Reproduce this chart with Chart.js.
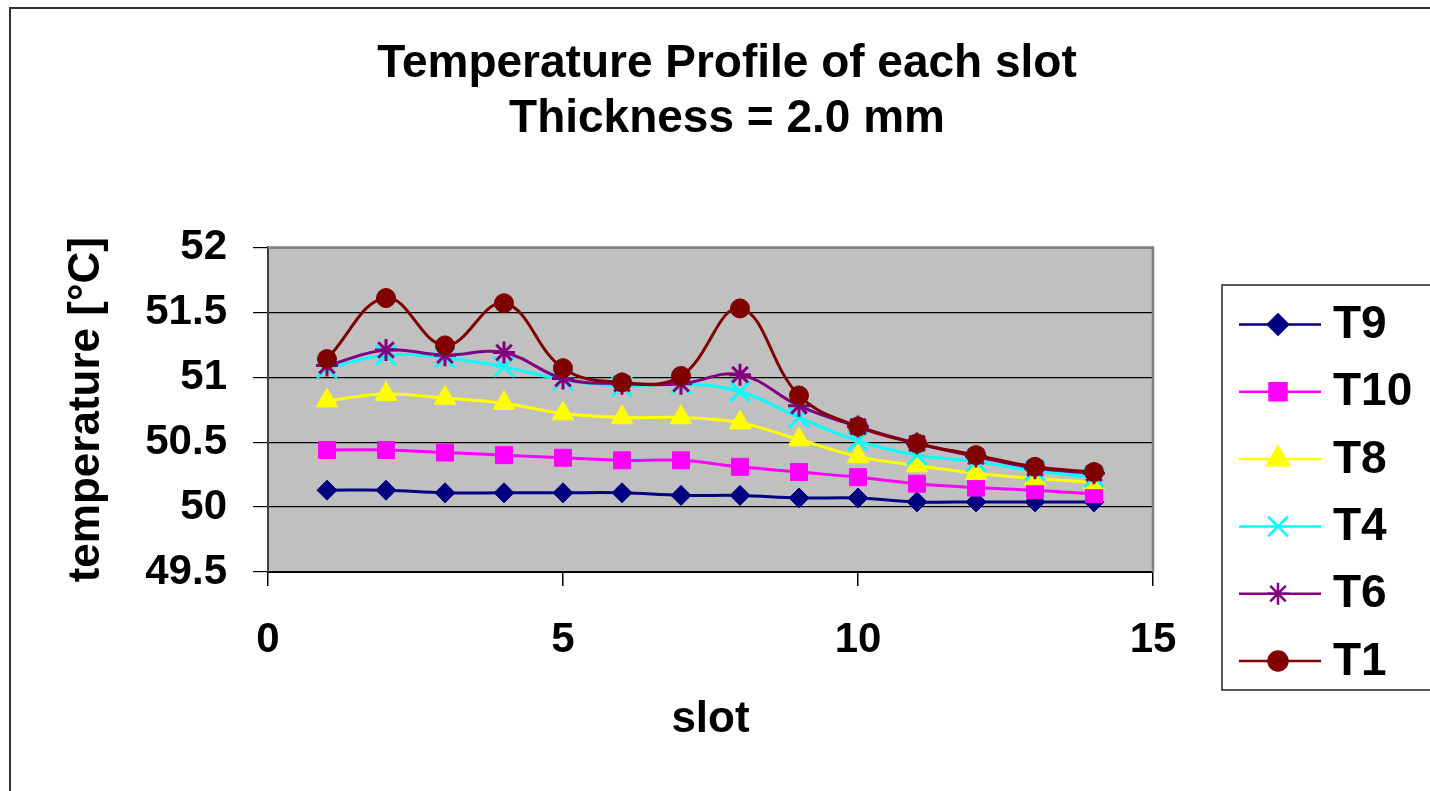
<!DOCTYPE html>
<html>
<head>
<meta charset="utf-8">
<script src="https://cdn.jsdelivr.net/npm/chart.js@4.4.1/dist/chart.umd.min.js"></script>
<style>
  html, body { margin: 0; padding: 0; background: #ffffff; }
  #wrap { width: 1430px; height: 791px; position: relative; }
</style>
</head>
<body>
<div id="wrap"><canvas id="c" width="1430" height="791"></canvas></div>
<script>
// ---- Data ----
const slots = [1, 2, 3, 4, 5, 6, 7, 8, 9, 10, 11, 12, 13, 14];
const seriesNames = ['T9', 'T10', 'T8', 'T4', 'T6', 'T1'];
const T9  = [50.13, 50.13, 50.11, 50.11, 50.11, 50.11, 50.09, 50.09, 50.07, 50.07, 50.04, 50.04, 50.04, 50.04];
const T10 = [50.44, 50.44, 50.42, 50.40, 50.38, 50.36, 50.36, 50.31, 50.27, 50.23, 50.18, 50.15, 50.13, 50.10];
const T8  = [50.82, 50.87, 50.84, 50.80, 50.72, 50.69, 50.69, 50.65, 50.52, 50.39, 50.32, 50.26, 50.22, 50.19];
const T4  = [51.07, 51.17, 51.15, 51.08, 50.98, 50.93, 50.95, 50.89, 50.69, 50.51, 50.40, 50.35, 50.28, 50.23];
const T6  = [51.09, 51.21, 51.17, 51.19, 50.99, 50.95, 50.95, 51.02, 50.78, 50.62, 50.49, 50.39, 50.30, 50.26];
const T1  = [51.14, 51.61, 51.245, 51.57, 51.07, 50.96, 51.01, 51.53, 50.86, 50.62, 50.49, 50.40, 50.31, 50.27];
const xTicks = [0, 5, 10, 15];
const yTicks = [49.5, 50, 50.5, 51, 51.5, 52];
const titleLines = ['Temperature Profile of each slot', 'Thickness = 2.0 mm'];
const xTitle = 'slot';
const yTitle = 'temperature [°C]';

const seriesValues = [T9, T10, T8, T4, T6, T1];
const seriesColors = ['#000080', '#FF00FF', '#FFFF00', '#00FFFF', '#800080', '#800000'];
const seriesStyles = ['rectRot', 'rect', 'triangle', 'crossRot', 'star', 'circle'];
const seriesRadius = [10, 12, 12.5, 14, 11, 9.5];

const FONT = "'Liberation Sans', Arial, Helvetica, sans-serif";

const datasets = seriesNames.map((name, i) => ({
  label: name,
  data: slots.map((s, k) => ({ x: s, y: seriesValues[i][k] })),
  borderColor: seriesColors[i],
  backgroundColor: seriesColors[i],
  pointBackgroundColor: seriesColors[i],
  pointBorderColor: seriesColors[i],
  pointStyle: seriesStyles[i],
  pointRadius: seriesRadius[i],
  pointBorderWidth: (seriesStyles[i] === 'crossRot' || seriesStyles[i] === 'star') ? 3 : 1,
  borderWidth: 3,
  tension: 0.4,
  fill: false,
  order: seriesNames.length - 1 - i
}));

// outer chart frame, plot background and plot border
const framePlugin = {
  id: 'frame',
  beforeDraw(chart) {
    const ctx = chart.ctx;
    const a = chart.chartArea;
    ctx.save();
    ctx.fillStyle = '#ffffff';
    ctx.fillRect(0, 0, chart.width, chart.height);
    ctx.strokeStyle = '#333333';
    ctx.lineWidth = 2;
    ctx.strokeRect(10, 8, chart.width + 20, chart.height + 20);
    ctx.fillStyle = '#C0C0C0';
    ctx.fillRect(a.left, a.top, a.right - a.left, a.bottom - a.top);
    ctx.restore();
  },
  beforeDatasetsDraw(chart) {
    const ctx = chart.ctx;
    const a = chart.chartArea;
    ctx.save();
    ctx.strokeStyle = '#808080';
    ctx.lineWidth = 2.5;
    ctx.beginPath();
    ctx.moveTo(a.left, a.top);
    ctx.lineTo(a.right, a.top);
    ctx.lineTo(a.right, a.bottom);
    ctx.stroke();
    ctx.restore();
  }
};

// Excel-style legend (line + marker) in a framed box on the right
const legendBoxPlugin = {
  id: 'legendBox',
  afterDraw(chart) {
    const ctx = chart.ctx;
    const a = chart.chartArea;
    const boxLeft = a.right + 69;
    const boxTop = 285;
    const boxBottom = 690;
    ctx.save();
    ctx.fillStyle = '#ffffff';
    ctx.fillRect(boxLeft, boxTop, chart.width - boxLeft + 10, boxBottom - boxTop);
    ctx.strokeStyle = '#222222';
    ctx.lineWidth = 1.5;
    ctx.strokeRect(boxLeft, boxTop, chart.width - boxLeft + 20, boxBottom - boxTop);
    const itemGap = 67.3;
    chart.data.datasets.forEach((ds, i) => {
      const y = boxTop + 39.5 + itemGap * i;
      const x0 = boxLeft + 17, x1 = boxLeft + 99, xm = boxLeft + 56;
      ctx.strokeStyle = ds.borderColor;
      ctx.lineWidth = 2.5;
      ctx.beginPath();
      ctx.moveTo(x0, y);
      ctx.lineTo(x1, y);
      ctx.stroke();
      ctx.fillStyle = ds.pointBackgroundColor;
      ctx.strokeStyle = ds.pointBorderColor;
      if (Chart.helpers && Chart.helpers.drawPoint) {
        Chart.helpers.drawPoint(ctx, {
          pointStyle: ds.pointStyle,
          radius: ds.pointRadius,
          rotation: 0,
          borderWidth: ds.pointBorderWidth
        }, xm, y);
      }
      ctx.fillStyle = '#000000';
      ctx.font = 'bold 46px ' + FONT;
      ctx.textAlign = 'left';
      ctx.textBaseline = 'middle';
      ctx.fillText(ds.label, boxLeft + 111, y + 1);
    });
    ctx.restore();
  }
};

new Chart(document.getElementById('c'), {
  type: 'line',
  data: { datasets },
  plugins: [framePlugin, legendBoxPlugin],
  options: {
    responsive: false,
    animation: false,
    devicePixelRatio: 1,
    layout: { padding: { left: 26, right: 2, top: 0, bottom: 0 } },
    plugins: {
      legend: { display: false },
      tooltip: { enabled: false },
      title: {
        display: true,
        text: titleLines,
        color: '#000000',
        font: { family: FONT, size: 46, weight: 'bold', lineHeight: 1.2 },
        padding: { top: 37, bottom: 100 }
      }
    },
    scales: {
      x: {
        type: 'linear',
        min: 0,
        max: 15,
        afterBuildTicks(scale) { scale.ticks = xTicks.map(v => ({ value: v })); },
        afterFit(scale) { scale.height = 219; },
        ticks: {
          color: '#000000',
          font: { family: FONT, size: 42, weight: 'bold' },
          padding: 29,
          maxRotation: 0,
          autoSkip: false,
          callback: v => String(v)
        },
        grid: { drawOnChartArea: false, drawTicks: true, tickLength: 14, color: '#000000', lineWidth: 1.5 },
        border: { display: true, color: '#000000', width: 2 },
        title: {
          display: true,
          text: xTitle,
          color: '#000000',
          font: { family: FONT, size: 44, weight: 'bold', lineHeight: 1.2 },
          padding: { top: 0, bottom: 45 }
        }
      },
      y: {
        type: 'linear',
        min: 49.5,
        max: 52,
        afterBuildTicks(scale) { scale.ticks = yTicks.map(v => ({ value: v })); },
        afterFit(scale) { scale.width = 242; },
        ticks: {
          color: '#000000',
          font: { family: FONT, size: 42, weight: 'bold' },
          padding: 26,
          callback: v => String(v)
        },
        grid: { drawOnChartArea: true, drawTicks: true, tickLength: 15, color: '#000000', lineWidth: 1.2 },
        border: { display: true, color: '#404040', width: 2 },
        title: {
          display: true,
          text: yTitle,
          color: '#000000',
          font: { family: FONT, size: 44, weight: 'bold', lineHeight: 1.2 },
          padding: { top: 34, bottom: 0 }
        }
      },
      yRight: {
        type: 'linear',
        position: 'right',
        min: 0,
        max: 1,
        display: true,
        afterFit(scale) { scale.width = 275; },
        ticks: { display: false },
        grid: { display: false, drawTicks: false },
        border: { display: false }
      }
    }
  }
});
</script>
</body>
</html>
